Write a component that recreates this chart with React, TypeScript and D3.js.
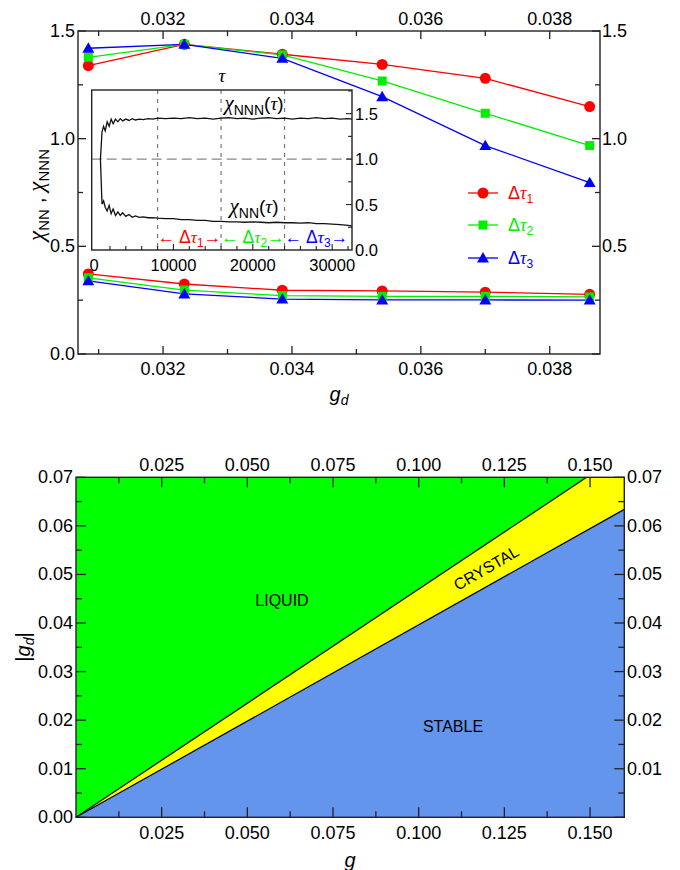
import React from "react";
import * as d3 from "d3";

// ---------- top panel data ----------
const gdValues = [0.03084, 0.03233, 0.03385, 0.0354, 0.037, 0.03862];
const nnnTau1 = [1.339, 1.438, 1.392, 1.345, 1.28, 1.149];
const nnnTau2 = [1.378, 1.438, 1.389, 1.268, 1.118, 0.968];
const nnnTau3 = [1.42, 1.438, 1.373, 1.195, 0.968, 0.796];
const nnTau1 = [0.372, 0.325, 0.296, 0.293, 0.287, 0.277];
const nnTau2 = [0.354, 0.297, 0.271, 0.268, 0.268, 0.265];
const nnTau3 = [0.34, 0.279, 0.255, 0.251, 0.251, 0.25];
const seriesNames = ["1", "2", "3"];
const seriesColors = ["#ff0000", "#00ee00", "#0000ff"];
const topXTicks = [0.032, 0.034, 0.036, 0.038];
const topYTicks = [0, 0.5, 1.0, 1.5];

// ---------- inset data ----------
const inTau = [800, 1000, 1200, 1400, 1650, 1900, 2150, 2400, 2700, 3000, 3300, 3600, 4000, 4400, 4800, 5200, 5700, 6200, 6800, 7400, 8000, 9000, 10000, 11000, 12000, 13000, 14000, 15000, 16000, 17000, 18000, 19000, 20000, 21000, 22000, 23000, 24000, 25000, 26000, 27000, 28000, 29000, 30000, 31000, 32000, 32500];
const inNNN = [1.0, 1.3, 1.36, 1.31, 1.41, 1.36, 1.44, 1.39, 1.44, 1.41, 1.445, 1.42, 1.44, 1.425, 1.445, 1.43, 1.44, 1.435, 1.445, 1.44, 1.45, 1.445, 1.45, 1.445, 1.455, 1.445, 1.45, 1.44, 1.45, 1.455, 1.445, 1.45, 1.44, 1.45, 1.455, 1.445, 1.45, 1.44, 1.45, 1.445, 1.455, 1.445, 1.45, 1.44, 1.445, 1.44];
const inNN = [1.0, 0.505, 0.54, 0.47, 0.43, 0.49, 0.4, 0.45, 0.38, 0.42, 0.38, 0.41, 0.37, 0.39, 0.36, 0.375, 0.36, 0.365, 0.355, 0.355, 0.35, 0.345, 0.345, 0.335, 0.335, 0.325, 0.325, 0.315, 0.315, 0.31, 0.31, 0.305, 0.31, 0.305, 0.3, 0.305, 0.3, 0.3, 0.295, 0.3, 0.29, 0.29, 0.285, 0.28, 0.27, 0.265];
const inXTicks = [0, 10000, 20000, 30000];
const inYTicks = [0, 0.5, 1.0, 1.5];
const windowEdges = [8000, 16000, 24000, 32000];

// ---------- phase diagram data ----------
const liquidCrystalG = [0, 0.149];
const liquidCrystalGd = [0, 0.07];
const crystalStableG = [0, 0.16];
const crystalStableGd = [0, 0.0634];
const phXTicks = [0.025, 0.05, 0.075, 0.1, 0.125, 0.15];
const phYTicks = [0, 0.01, 0.02, 0.03, 0.04, 0.05, 0.06, 0.07];

const SANS = "'Liberation Sans', Arial, Helvetica, sans-serif";
const SERIF = "'Liberation Serif', 'DejaVu Serif', serif";
const AX = "#222";

function Marker({ kind, x, y, color }: { kind: number; x: number; y: number; color: string }) {
  if (kind === 0) return <circle cx={x} cy={y} r={5.5} fill={color} />;
  if (kind === 1) return <rect x={x - 4.5} y={y - 4.5} width={9} height={9} fill={color} />;
  const p = d3.symbol(d3.symbolTriangle, 62)();
  return <path d={p || ""} transform={`translate(${x},${y + 1})`} fill={color} />;
}

function TauSym({ sub, color }: { sub: string; color: string }) {
  return (
    <>
      <tspan fill={color}>Δ</tspan>
      <tspan fill={color} fontFamily={SERIF} fontStyle="italic">τ</tspan>
      <tspan fill={color} fontSize={12} dy={4}>{sub}</tspan>
    </>
  );
}

export default function App() {
  // top panel scales
  const L = 78, R = 600, T = 31, B = 354;
  const x = d3.scaleLinear().domain([0.03068, 0.03878]).range([L, R]);
  const y = d3.scaleLinear().domain([0, 1.5]).range([B, T]);
  const upper = [nnnTau1, nnnTau2, nnnTau3];
  const lower = [nnTau1, nnTau2, nnTau3];
  const line = d3
    .line<number>()
    .x((_, i) => x(gdValues[i]))
    .y((d) => y(d));

  const xMinor = d3.range(0.031, 0.0388, 0.001);
  const yMinor = d3.range(0.25, 1.5, 0.5);

  // inset scales
  const iL = 91.7, iR = 352, iT = 90, iB = 250;
  const xi = d3.scaleLinear().domain([-300, 32500]).range([iL, iR]);
  const yi = d3.scaleLinear().domain([0, 1.76]).range([iB, iT]);
  const inLine = (vals: number[]) =>
    d3
      .line<number>()
      .x((_, i) => xi(inTau[i]))
      .y((d) => yi(d))(vals) || "";
  const inMinorX = d3.range(2000, 32001, 2000);
  const inMinorY = d3.range(0.25, 1.76, 0.25);

  // phase diagram scales
  const pL = 76, pR = 624.3, pT = 477.3, pB = 817.3;
  const xp = d3.scaleLinear().domain([0, 0.16]).range([pL, pR]);
  const yp = d3.scaleLinear().domain([0, 0.07]).range([pB, pT]);
  const pxMinor = d3.range(0.0125, 0.16, 0.025);
  const pyMinor = d3.range(0.005, 0.07, 0.01);
  const lcEnd: [number, number] = [xp(liquidCrystalG[1]), yp(liquidCrystalGd[1])];
  const csEnd: [number, number] = [xp(crystalStableG[1]), yp(crystalStableGd[1])];
  const origin: [number, number] = [xp(liquidCrystalG[0]), yp(liquidCrystalGd[0])];
  const yellowPoly = [origin, lcEnd, [xp(0.16), yp(0.07)], csEnd];
  const bluePoly = [[xp(crystalStableG[0]), yp(crystalStableGd[0])], csEnd, [xp(0.16), yp(0)]];
  const poly = (pts: number[][]) => "M" + pts.map((p) => p.join(",")).join("L") + "Z";

  const legendY = [193, 225, 258];
  const FS = 18;

  return (
    <svg width={680} height={870} style={{ display: "block", position: "absolute", left: 0, top: 0 }} fontFamily={SANS}>
      <rect width={680} height={870} fill="white" />

      {/* ================= TOP PANEL ================= */}
      {[...upper, ...lower].map((vals, k) => (
        <path key={"l" + k} d={line(vals) || ""} fill="none" stroke={seriesColors[k % 3]} strokeWidth={1.3} />
      ))}
      {[...upper, ...lower].map((vals, k) =>
        vals.map((v, i) => <Marker key={`m${k}-${i}`} kind={k % 3} x={x(gdValues[i])} y={y(v)} color={seriesColors[k % 3]} />)
      )}

      <rect x={L} y={T} width={R - L} height={B - T} fill="none" stroke={AX} strokeWidth={1.4} />
      {topXTicks.map((t) => (
        <g key={"xt" + t}>
          <line x1={x(t)} x2={x(t)} y1={B} y2={B - 8} stroke={AX} strokeWidth={1.3} />
          <line x1={x(t)} x2={x(t)} y1={T} y2={T + 8} stroke={AX} strokeWidth={1.3} />
          <text x={x(t)} y={375} textAnchor="middle" fontSize={FS}>{t.toFixed(3)}</text>
          <text x={x(t)} y={25} textAnchor="middle" fontSize={FS}>{t.toFixed(3)}</text>
        </g>
      ))}
      {xMinor.filter((t) => !topXTicks.some((m) => Math.abs(m - t) < 1e-6)).map((t) => (
        <g key={"xm" + t}>
          <line x1={x(t)} x2={x(t)} y1={B} y2={B - 5} stroke={AX} strokeWidth={1.3} />
          <line x1={x(t)} x2={x(t)} y1={T} y2={T + 5} stroke={AX} strokeWidth={1.3} />
        </g>
      ))}
      {topYTicks.map((t) => (
        <g key={"yt" + t}>
          <line x1={L} x2={L + 8} y1={y(t)} y2={y(t)} stroke={AX} strokeWidth={1.3} />
          <line x1={R} x2={R - 8} y1={y(t)} y2={y(t)} stroke={AX} strokeWidth={1.3} />
          <text x={75} y={y(t) + 6} textAnchor="end" fontSize={FS}>{t.toFixed(1)}</text>
          {t > 0 && <text x={602} y={y(t) + 6} textAnchor="start" fontSize={FS}>{t.toFixed(1)}</text>}
        </g>
      ))}
      {yMinor.map((t) => (
        <g key={"ym" + t}>
          <line x1={L} x2={L + 5} y1={y(t)} y2={y(t)} stroke={AX} strokeWidth={1.3} />
          <line x1={R} x2={R - 5} y1={y(t)} y2={y(t)} stroke={AX} strokeWidth={1.3} />
        </g>
      ))}
      <text x={339} y={401} textAnchor="middle" fontSize={20}>
        <tspan fontStyle="italic">g</tspan>
        <tspan fontSize={14} dy={4} fontStyle="italic">d</tspan>
      </text>
      <text transform="translate(44,195) rotate(-90)" textAnchor="middle" fontSize={21}>
        <tspan fontFamily={SERIF} fontStyle="italic" fontSize={23}>χ</tspan>
        <tspan fontSize={15} dy={5}>NN</tspan>
        <tspan dy={-5}> , </tspan>
        <tspan fontFamily={SERIF} fontStyle="italic" fontSize={23}>χ</tspan>
        <tspan fontSize={15} dy={5}>NNN</tspan>
      </text>

      {seriesNames.map((s, k) => (
        <g key={"lg" + s}>
          <line x1={468} x2={498} y1={legendY[k]} y2={legendY[k]} stroke={seriesColors[k]} strokeWidth={1.3} />
          <Marker kind={k} x={483} y={legendY[k]} color={seriesColors[k]} />
          <text x={508} y={legendY[k] + 6} fontSize={18}>
            <TauSym sub={s} color={seriesColors[k]} />
          </text>
        </g>
      ))}

      {/* ================= INSET ================= */}
      <rect x={iL} y={iT} width={iR - iL} height={iB - iT} fill="white" />
      <line x1={iL} x2={iR} y1={yi(1)} y2={yi(1)} stroke="#888" strokeWidth={1.3} strokeDasharray="10,5" />
      {windowEdges.slice(0, 3).map((w) => (
        <line key={"we" + w} x1={xi(w)} x2={xi(w)} y1={iT} y2={iB} stroke="#777" strokeWidth={1.2} strokeDasharray="4,5" />
      ))}
      <path d={inLine(inNNN)} fill="none" stroke="#111" strokeWidth={1.3} />
      <path d={inLine(inNN)} fill="none" stroke="#111" strokeWidth={1.3} />
      <rect x={iL} y={iT} width={iR - iL} height={iB - iT} fill="none" stroke={AX} strokeWidth={1.4} />
      {inMinorX.map((t) => (
        <line key={"ixm" + t} x1={xi(t)} x2={xi(t)} y1={iB} y2={iB - (t % 10000 === 0 ? 6 : 4)} stroke={AX} strokeWidth={1.1} />
      ))}
      {inXTicks.map((t) => (
        <text key={"ixt" + t} x={xi(t)} y={iB + 21} textAnchor="middle" fontSize={16.5}>{t}</text>
      ))}
      {inMinorY.map((t) => (
        <line key={"iym" + t} x1={iR} x2={iR - (Math.abs(t * 2 - Math.round(t * 2)) < 1e-6 ? 6 : 4)} y1={yi(t)} y2={yi(t)} stroke={AX} strokeWidth={1.1} />
      ))}
      {inYTicks.map((t) => (
        <text key={"iyt" + t} x={iR + 3} y={yi(t) + 6} fontSize={16.5}>{t.toFixed(1)}</text>
      ))}
      <text x={(iL + iR) / 2} y={82} textAnchor="middle" fontSize={19} fontFamily={SERIF} fontStyle="italic">τ</text>
      <text x={254} y={110} textAnchor="middle" fontSize={19}>
        <tspan fontFamily={SERIF} fontStyle="italic" fontSize={21}>χ</tspan>
        <tspan fontSize={14} dy={5}>NNN</tspan>
        <tspan dy={-5}>(</tspan>
        <tspan fontFamily={SERIF} fontStyle="italic">τ</tspan>
        <tspan>)</tspan>
      </text>
      <text x={254} y={213} textAnchor="middle" fontSize={19}>
        <tspan fontFamily={SERIF} fontStyle="italic" fontSize={21}>χ</tspan>
        <tspan fontSize={14} dy={5}>NN</tspan>
        <tspan dy={-5}>(</tspan>
        <tspan fontFamily={SERIF} fontStyle="italic">τ</tspan>
        <tspan>)</tspan>
      </text>
      {seriesNames.map((s, k) => (
        <text key={"win" + s} x={(xi(windowEdges[k]) + xi(windowEdges[k + 1])) / 2} y={243} textAnchor="middle" fontSize={17.5} fill={seriesColors[k]}>
          <tspan>← </tspan>
          <TauSym sub={s} color={seriesColors[k]} />
          <tspan dy={-4}>→</tspan>
        </text>
      ))}

      {/* ================= PHASE DIAGRAM ================= */}
      <rect x={pL} y={pT} width={pR - pL} height={pB - pT} fill="#00ff00" />
      <path d={poly(yellowPoly)} fill="#ffff00" />
      <path d={poly(bluePoly)} fill="#6495ed" />
      <line x1={origin[0]} y1={origin[1]} x2={lcEnd[0]} y2={lcEnd[1]} stroke="#000" strokeWidth={1.2} />
      <line x1={origin[0]} y1={origin[1]} x2={csEnd[0]} y2={csEnd[1]} stroke="#000" strokeWidth={1.2} />
      <rect x={pL} y={pT} width={pR - pL} height={pB - pT} fill="none" stroke={AX} strokeWidth={1.4} />
      {phXTicks.map((t) => (
        <g key={"pxt" + t}>
          <line x1={xp(t)} x2={xp(t)} y1={pB} y2={pB - 10} stroke={AX} strokeWidth={1.3} />
          <line x1={xp(t)} x2={xp(t)} y1={pT} y2={pT + 10} stroke={AX} strokeWidth={1.3} />
          <text x={xp(t)} y={839} textAnchor="middle" fontSize={FS}>{t.toFixed(3)}</text>
          <text x={xp(t)} y={471} textAnchor="middle" fontSize={FS}>{t.toFixed(3)}</text>
        </g>
      ))}
      {pxMinor.map((t) => (
        <g key={"pxm" + t}>
          <line x1={xp(t)} x2={xp(t)} y1={pB} y2={pB - 6} stroke={AX} strokeWidth={1.3} />
          <line x1={xp(t)} x2={xp(t)} y1={pT} y2={pT + 6} stroke={AX} strokeWidth={1.3} />
        </g>
      ))}
      {phYTicks.map((t) => (
        <g key={"pyt" + t}>
          <line x1={pL} x2={pL + 10} y1={yp(t)} y2={yp(t)} stroke={AX} strokeWidth={1.3} />
          <line x1={pR} x2={pR - 10} y1={yp(t)} y2={yp(t)} stroke={AX} strokeWidth={1.3} />
          <text x={73} y={yp(t) + 6} textAnchor="end" fontSize={FS}>{t.toFixed(2)}</text>
          {t > 0 && <text x={627} y={yp(t) + 6} textAnchor="start" fontSize={FS}>{t.toFixed(2)}</text>}
        </g>
      ))}
      {pyMinor.map((t) => (
        <g key={"pym" + t}>
          <line x1={pL} x2={pL + 6} y1={yp(t)} y2={yp(t)} stroke={AX} strokeWidth={1.3} />
          <line x1={pR} x2={pR - 6} y1={yp(t)} y2={yp(t)} stroke={AX} strokeWidth={1.3} />
        </g>
      ))}
      <text x={282} y={606} textAnchor="middle" fontSize={16}>LIQUID</text>
      <text x={453} y={732} textAnchor="middle" fontSize={16}>STABLE</text>
      <text transform="translate(489,573) rotate(-30)" textAnchor="middle" fontSize={16}>CRYSTAL</text>
      <text x={350} y={867} textAnchor="middle" fontSize={20} fontStyle="italic">g</text>
      <text transform="translate(30,647) rotate(-90)" textAnchor="middle" fontSize={20}>
        <tspan>|</tspan>
        <tspan fontStyle="italic">g</tspan>
        <tspan fontSize={14} dy={4} fontStyle="italic">d</tspan>
        <tspan dy={-4}>|</tspan>
      </text>
    </svg>
  );
}
